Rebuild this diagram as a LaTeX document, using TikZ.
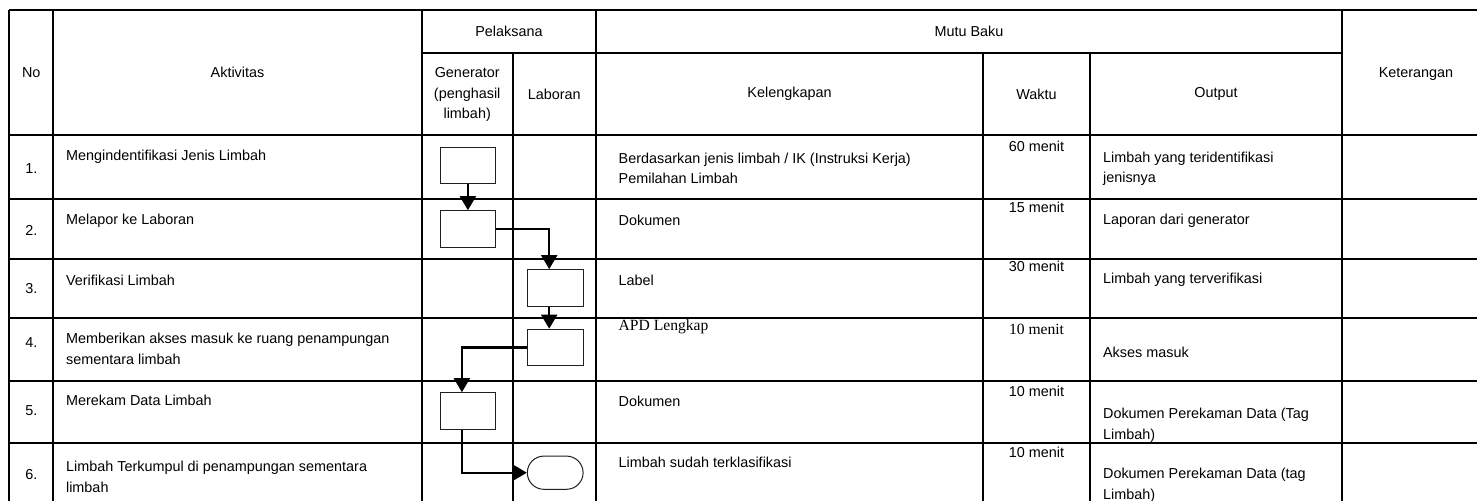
\documentclass[tikz,border=0pt]{standalone}
\usepackage{fontspec}
\setmainfont{Liberation Sans}
\newfontfamily\timesfont{Liberation Serif}
\usetikzlibrary{shapes.misc,arrows.meta,positioning}
\definecolor{boxline}{HTML}{231F20}

\begin{document}
\begin{tikzpicture}[x=0.5pt,y=-0.5pt,
    font=\fontsize{7.2}{10.4}\selectfont,
    grid/.style={line width=1pt},
    procbox/.style={draw=boxline, line width=0.5pt, minimum width=27.9pt, minimum height=18.3pt, inner sep=0pt},
    endbox/.style={procbox, rounded rectangle, minimum height=16.6pt},
    flow/.style={line width=1.1pt, -{Triangle[width=8pt,length=7pt]}},
    txt/.style={anchor=west, inner sep=0pt, align=left},
    mid/.style={inner sep=0pt, align=center}]
    \useasboundingbox (0,0) rectangle (1477,501);
    \clip (0,0) rectangle (1477,501);

    % columns and rows
    \def\xa{9.3}   \def\xb{53.3}  \def\xc{421.7} \def\xd{512.7}
    \def\xe{596}   \def\xf{983}   \def\xg{1090}  \def\xh{1342.3}
    \def\xi{1500}
    \def\ya{10}    \def\yb{52.7}  \def\yc{135.5} \def\yend{520}

    \draw[grid] (\xa,\ya) -- (\xi,\ya);
    \draw[grid] (\xc,\yb) -- (\xh,\yb);
    \foreach \y in {\yc,199,259,318,381,443.5}
        \draw[grid] (\xa,\y) -- (\xi,\y);
    \foreach \x in {\xa,\xb,\xc,\xe,\xh}
        \draw[grid] (\x,\ya) -- (\x,\yend);
    \foreach \x in {\xd,\xf,\xg}
        \draw[grid] (\x,\yb) -- (\x,\yend);

    % header
    \node[mid] (hno) at (31.3,72.5) {No};
    \node[mid] (hakt) at (237.5,72.5) {Aktivitas};
    \node[mid] (hpel) at (509,31.3) {Pelaksana};
    \node[mid] (hmutu) at (969,31.3) {Mutu Baku};
    \node[mid] (hgen) at (467.2,94.5) {Generator\\(penghasil\\limbah)};
    \node[mid] (hlab) at (554.3,94) {Laboran};
    \node[mid] (hkel) at (789.5,94) {Kelengkapan};
    \node[mid] (hwak) at (1036.5,94) {Waktu};
    \node[mid] (hout) at (1216,94) {Output};
    \node[mid] (hket) at (1416,74) {Keterangan};

    % nomor
    \foreach \n/\y in {1/169,2/230,3/289,4/343,5/410.7,6/475}
        \node[mid] (no\n) at (31.3,\y) {\n.};

    % aktivitas
    \node[txt] (akt1) at (65.7,156.7) {Mengindentifikasi Jenis Limbah};
    \node[txt] (akt2) at (65.7,220.7) {Melapor ke Laboran};
    \node[txt] (akt3) at (65.7,280.7) {Verifikasi Limbah};
    \node[txt] (akt4) at (65.7,349.2) {Memberikan akses masuk ke ruang penampungan\\sementara limbah};
    \node[txt] (akt5) at (65.7,400.7) {Merekam Data Limbah};
    \node[txt] (akt6) at (65.7,477) {Limbah Terkumpul di penampungan sementara\\limbah};

    % kelengkapan
    \node[txt] (kel1) at (618.3,168.3) {Berdasarkan jenis limbah / IK (Instruksi Kerja)\\Pemilahan Limbah};
    \node[txt] (kel2) at (618.3,220.7) {Dokumen};
    \node[txt] (kel3) at (618.3,280) {Label};
    \node[txt] (kel4) at (618.3,327) {\timesfont\fontsize{7.8}{10}\selectfont APD Lengkap};
    \node[txt] (kel5) at (618.3,401) {Dokumen};
    \node[txt] (kel6) at (618.3,462) {Limbah sudah terklasifikasi};

    % waktu
    \node[mid] (wak1) at (1036.5,146.7) {60 menit};
    \node[mid] (wak2) at (1036.5,207.3) {15 menit};
    \node[mid] (wak3) at (1036.5,266.7) {30 menit};
    \node[mid] (wak4) at (1036.5,329) {\timesfont\fontsize{7.8}{10}\selectfont 10 menit};
    \node[mid] (wak5) at (1036.5,391) {10 menit};
    \node[mid] (wak6) at (1036.5,452) {10 menit};

    % output
    \node[txt] (out1) at (1102.7,168.8) {Limbah yang teridentifikasi\\jenisnya};
    \node[txt] (out2) at (1102.7,220.7) {Laporan dari generator};
    \node[txt] (out3) at (1102.7,280) {Limbah yang terverifikasi};
    \node[txt] (out4) at (1102.7,352) {Akses masuk};
    \node[txt] (out5) at (1102.7,425) {Dokumen Perekaman Data (Tag\\Limbah)};
    \node[txt] (out6) at (1102.7,485.5) {Dokumen Perekaman Data (tag\\Limbah)};

    % flowchart
    \node[procbox] (b1) at (467.9,165.7) {};
    \node[procbox] (b2) at (467.9,229) {};
    \node[procbox] (b3) at (555.2,287.9) {};
    \node[procbox] (b4) at (555.2,347.5) {};
    \node[procbox] (b5) at (467.9,411) {};
    \node[endbox] (t6) at (555.2,472.7) {};

    \draw[flow] (b1) -- (b2);
    \draw[flow] (b2.east) -| ([xshift=-3pt]b3.north);
    \draw[flow] ([xshift=-3pt]b3.south) -- ([xshift=-3pt]b4.north);
    \draw[flow] (b4.west) -| ([xshift=-3pt]b5.north);
    \draw[flow] ([xshift=-3pt]b5.south) |- (t6.west);
\end{tikzpicture}
\end{document}
